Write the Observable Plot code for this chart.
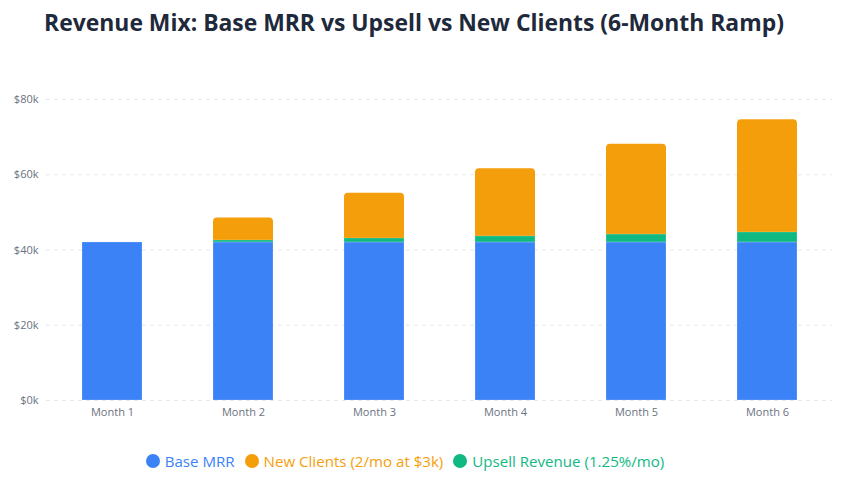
<!DOCTYPE html>
<html>
<head>
<meta charset="utf-8">
<script src="https://cdn.jsdelivr.net/npm/d3@7"></script>
<script src="https://cdn.jsdelivr.net/npm/@observablehq/plot@0.6"></script>
<style>
  html, body { margin: 0; padding: 0; background: #fff; }
  body { width: 844px; height: 484px; overflow: hidden; font-family: "Open Sans", "Noto Sans", sans-serif; }
  #title { height: 60px; box-sizing: border-box; padding-top: 8px; padding-right: 16px; text-align: center;
           font-size: 22.9px; font-weight: 700; color: #1e293b; line-height: 30px; }
  #chart { height: 370px; }
  #legend { display: flex; justify-content: center; align-items: center; gap: 10px; padding-right: 34px;
            margin-top: 21px; font-size: 15.1px; }
  .item { display: flex; align-items: center; gap: 5px; }
  .dot { width: 14px; height: 14px; border-radius: 50%; display: inline-block; }
</style>
</head>
<body>
<div id="title">Revenue Mix: Base MRR vs Upsell vs New Clients (6-Month Ramp)</div>
<div id="chart"></div>
<div id="legend"></div>
<script>
const months = ["Month 1", "Month 2", "Month 3", "Month 4", "Month 5", "Month 6"];
const baseMRR = [42000, 42000, 42000, 42000, 42000, 42000];
const upsellRevenue = [0, 525, 1050, 1600, 2100, 2650];
const newClients = [0, 6000, 12000, 18000, 24000, 30000];
const seriesNames = ["Base MRR", "New Clients (2/mo at $3k)", "Upsell Revenue (1.25%/mo)"];
const seriesColors = ["#3b82f6", "#f59e0b", "#10b981"];
const yTicks = [0, 20000, 40000, 60000, 80000];

const lowerRows = [];
months.forEach((m, i) => {
  lowerRows.push({month: m, series: seriesNames[0], value: baseMRR[i]});
  lowerRows.push({month: m, series: seriesNames[2], value: upsellRevenue[i]});
});
const topRows = months.map((m, i) => ({
  month: m, series: seriesNames[1],
  y1: baseMRR[i] + upsellRevenue[i],
  y2: baseMRR[i] + upsellRevenue[i] + newClients[i]
}));

const chart = Plot.plot({
  width: 844,
  height: 370,
  marginLeft: 46,
  marginRight: 12,
  marginTop: 39,
  marginBottom: 30,
  style: {fontFamily: "'Open Sans', 'Noto Sans', sans-serif", fontSize: "11px", color: "#6b7280", background: "#fff"},
  x: {domain: months, paddingInner: 0.542, paddingOuter: 0.25, label: null, tickSize: 0, tickPadding: 8},
  y: {domain: [0, 80000], ticks: yTicks, tickFormat: d => `$${d / 1000}k`, label: null, tickSize: 0, tickPadding: 8},
  color: {domain: seriesNames, range: seriesColors},
  marks: [
    Plot.gridY(yTicks, {stroke: "#e5e7eb", strokeOpacity: 1, strokeDasharray: "4,4"}),
    Plot.barY(topRows, {x: "month", y1: "y1", y2: "y2", fill: "series", rx: 4, insetBottom: -6}),
    Plot.barY(lowerRows, Plot.stackY({x: "month", y: "value", fill: "series",
      order: [seriesNames[0], seriesNames[2]], stroke: "#fff", strokeOpacity: 0.35, strokeWidth: 0.6}))
  ]
});
document.getElementById("chart").appendChild(chart);

const legend = document.getElementById("legend");
seriesNames.forEach((s, i) => {
  const item = document.createElement("div");
  item.className = "item";
  const dot = document.createElement("span");
  dot.className = "dot";
  dot.style.background = seriesColors[i];
  const label = document.createElement("span");
  label.textContent = s;
  label.style.color = seriesColors[i];
  item.appendChild(dot);
  item.appendChild(label);
  legend.appendChild(item);
});
</script>
</body>
</html>
